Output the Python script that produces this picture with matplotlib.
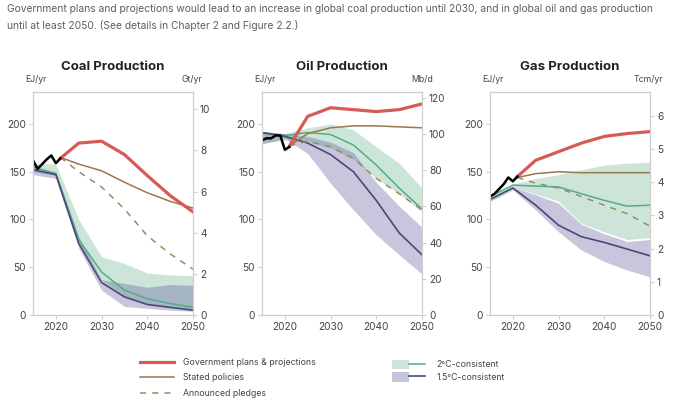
import numpy as np
import matplotlib
matplotlib.use('Agg')
import matplotlib.pyplot as plt
from matplotlib.lines import Line2D
from matplotlib.patches import Patch
from matplotlib.legend_handler import HandlerTuple

plt.rcParams['font.family'] = ['Inter', 'DejaVu Sans']

# years
hist_years = [2015, 2016, 2017, 2018, 2019, 2020, 2021]
proj_years = [2021, 2025, 2030, 2035, 2040, 2045, 2050]
scen_years = [2015, 2020, 2025, 2030, 2035, 2040, 2045, 2050]

# coal (EJ/yr)
coal_hist = [162, 153, 158, 163, 167, 159, 164]
coal_gov = [164, 180, 182, 168, 146, 125, 108]
coal_stated = [165, 158, 151, 139, 128, 119, 112]
coal_pledges = [165, 150, 134, 111, 83, 64, 48]
coal_2c = [155, 148, 79, 45, 26, 17, 12, 8]
coal_2c_hi = [159, 158, 100, 61, 54, 44, 42, 41]
coal_2c_lo = [150, 146, 74, 37, 20, 12, 8, 6]
coal_15c = [152, 147, 75, 34, 19, 11, 8, 5]
coal_15c_hi = [155, 150, 82, 37, 33, 29, 32, 31]
coal_15c_lo = [147, 143, 70, 26, 9, 7, 5, 4]

# oil (EJ/yr)
oil_hist = [183, 185, 185, 188, 188, 173, 176]
oil_gov = [177, 208, 217, 215, 213, 215, 221]
oil_stated = [177, 190, 196, 198, 198, 197, 196]
oil_pledges = [177, 182, 176, 164, 143, 127, 110]
oil_2c = [191, 188, 191, 189, 178, 157, 133, 111]
oil_2c_hi = [192, 190, 196, 200, 194, 176, 159, 133]
oil_2c_lo = [180, 183, 182, 175, 163, 143, 127, 108]
oil_15c = [191, 187, 180, 168, 150, 120, 86, 63]
oil_15c_hi = [192, 190, 187, 181, 170, 139, 114, 92]
oil_15c_lo = [179, 185, 169, 138, 110, 84, 63, 43]

# gas (EJ/yr)
gas_hist = [124, 127, 132, 137, 144, 140, 145]
gas_gov = [145, 162, 171, 180, 187, 190, 192]
gas_stated = [144, 148, 150, 149, 149, 149, 149]
gas_pledges = [144, 138, 133, 124, 115, 106, 93]
gas_2c = [124, 136, 135, 134, 127, 120, 114, 115]
gas_2c_hi = [124, 137, 143, 147, 152, 157, 159, 160]
gas_2c_lo = [120, 134, 127, 119, 96, 87, 79, 81]
gas_15c = [121, 133, 115, 94, 82, 76, 69, 62]
gas_15c_hi = [122, 134, 126, 117, 95, 85, 77, 79]
gas_15c_lo = [119, 131, 110, 87, 68, 56, 47, 40]

titles = ['Coal Production', 'Oil Production', 'Gas Production']
right_units = ['Gt/yr', 'Mb/d', 'Tcm/yr']
# EJ per right-axis unit
conv = [21.54, 227.5 / 120, 208.7 / 6]
right_ticks = [[0, 2, 4, 6, 8, 10], [0, 20, 40, 60, 80, 100, 120], [0, 1, 2, 3, 4, 5, 6]]
unit_x = [1.06, 1.07, 1.08]

data = [
    (coal_hist, coal_gov, coal_stated, coal_pledges, coal_2c, coal_2c_hi, coal_2c_lo, coal_15c, coal_15c_hi, coal_15c_lo),
    (oil_hist, oil_gov, oil_stated, oil_pledges, oil_2c, oil_2c_hi, oil_2c_lo, oil_15c, oil_15c_hi, oil_15c_lo),
    (gas_hist, gas_gov, gas_stated, gas_pledges, gas_2c, gas_2c_hi, gas_2c_lo, gas_15c, gas_15c_hi, gas_15c_lo),
]

red = '#d65a55'
brown = '#98784d'
dash_col = '#9a8c5e'
green = '#4fae88'
green_band = '#3a9a6a'
purple = '#4b4878'
purple_band = '#4a4590'
g_alpha = 0.25
p_alpha = 0.3
spine_col = '#cfcfcf'
text_col = '#444444'

fig = plt.figure(figsize=(6.8, 4.18), dpi=100)
fig.text(0.011, 0.99, 'Government plans and projections would lead to an increase in global coal production until 2030, and in global oil and gas production\nuntil at least 2050. (See details in Chapter 2 and Figure 2.2.)',
         fontsize=7.4, color='#5a5f66', va='top', ha='left', linespacing=1.65)

lefts = [33 / 680, 262 / 680, 490 / 680]
ymax = 233.5

for i in range(3):
    hist, gov, stated, pledges, c2, c2hi, c2lo, c15, c15hi, c15lo = data[i]
    ax = fig.add_axes([lefts[i], 1 - 315 / 418, 160 / 680, 223 / 418])
    ax.fill_between(scen_years, c2lo, c2hi, color=green_band, alpha=g_alpha, lw=0)
    ax.fill_between(scen_years, c15lo, c15hi, color=purple_band, alpha=p_alpha, lw=0)
    ax.plot(scen_years, c2, color=green, lw=1.1)
    ax.plot(scen_years, c15, color=purple, lw=1.2)
    ax.plot(proj_years, pledges, color=dash_col, lw=1.1, ls=(0, (4, 4)))
    ax.plot(proj_years, stated, color=brown, lw=1.1)
    ax.plot(proj_years, gov, color=red, lw=2.3)
    ax.plot(hist_years, hist, color='black', lw=1.8)

    ax.set_xlim(2015, 2050)
    ax.set_ylim(0, ymax)
    ax.set_xticks([2020, 2030, 2040, 2050])
    ax.set_yticks([0, 50, 100, 150, 200])
    for s in ax.spines.values():
        s.set_color(spine_col)
        s.set_linewidth(0.8)
    ax.tick_params(colors=spine_col, labelcolor=text_col, labelsize=7.3, length=3, width=0.8, pad=2)

    ax2 = ax.twinx()
    ax2.set_ylim(0, ymax / conv[i])
    ax2.set_yticks(right_ticks[i])
    for s in ax2.spines.values():
        s.set_color(spine_col)
        s.set_linewidth(0.8)
    ax2.tick_params(colors=spine_col, labelcolor=text_col, labelsize=7.3, length=3, width=0.8, pad=2)

    ax.set_title(titles[i], fontsize=9.5, fontweight='bold', color='#222222', pad=16)
    ax.text(-0.05, 1.035, 'EJ/yr', transform=ax.transAxes, fontsize=6.3, color=text_col, ha='left', va='bottom')
    ax.text(unit_x[i], 1.035, right_units[i], transform=ax.transAxes, fontsize=6.3, color=text_col, ha='right', va='bottom')

h1 = [Line2D([], [], color=red, lw=2.3),
      Line2D([], [], color=brown, lw=1.1),
      Line2D([], [], color=dash_col, lw=1.1, ls=(0, (4, 4)))]
l1 = ['Government plans & projections', 'Stated policies', 'Announced pledges']
leg1 = fig.legend(h1, l1, loc='upper left', bbox_to_anchor=(0.195, 0.162), frameon=False,
                  fontsize=6.3, handlelength=3.8, handletextpad=1.1, labelspacing=0.72, labelcolor=text_col)

h2 = [(Patch(facecolor=green_band, alpha=g_alpha, lw=0), Line2D([], [], color=green, lw=1.1)),
      (Patch(facecolor=purple_band, alpha=p_alpha, lw=0), Line2D([], [], color=purple, lw=1.2))]
l2 = ['2\u00b0C-consistent', '1.5\u00b0C-consistent']
leg2 = fig.legend(h2, l2, loc='upper left', bbox_to_anchor=(0.565, 0.158), frameon=False,
                  fontsize=6.3, handlelength=3.8, handleheight=1.25, handletextpad=1.3, labelspacing=0.35,
                  labelcolor=text_col, handler_map={tuple: HandlerTuple(ndivide=None, pad=0)})

fig.savefig('out.png', dpi=100)
